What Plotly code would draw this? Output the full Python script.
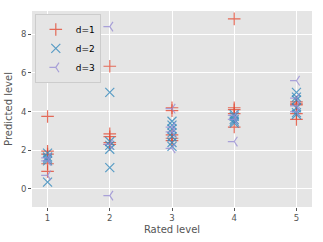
import plotly.graph_objects as go

# d=1 predictions
d1_x = [1, 1, 1, 1, 1, 2, 2, 2, 2, 2, 3, 3, 3, 3, 3, 4, 4, 4, 4, 4, 5, 5, 5, 5, 5]
d1_y = [3.75, 1.95, 1.8, 1.3, 0.9, 6.35, 2.85, 2.7, 2.4, 2.3, 4.2, 4.05, 2.8, 2.62, 2.5,
        8.8, 4.2, 4.1, 3.9, 3.2, 4.5, 4.4, 4.35, 3.9, 3.6]
# d=2 predictions
d2_x = [1, 1, 1, 1, 1, 2, 2, 2, 2, 2, 3, 3, 3, 3, 3, 3, 3, 4, 4, 4, 4, 4, 5, 5, 5, 5, 5, 5]
d2_y = [1.85, 1.65, 1.55, 1.45, 0.35, 5.0, 2.45, 2.25, 2.05, 1.1, 3.5, 3.3, 3.1, 2.9, 2.7, 2.4, 2.2,
        3.85, 3.75, 3.6, 3.5, 3.4, 5.0, 4.75, 4.6, 4.2, 3.95, 3.85]
# d=3 predictions
d3_x = [1, 1, 1, 2, 2, 2, 3, 3, 3, 3, 4, 4, 4, 5, 5, 5, 5]
d3_y = [1.6, 1.45, 0.7, 8.4, 2.3, -0.35, 4.15, 3.2, 2.95, 2.1, 3.8, 3.6, 2.45, 5.6, 4.7, 4.3, 4.0]

x_ticks = [1, 2, 3, 4, 5]
y_ticks = [0, 2, 4, 6, 8]

series = [
    ("d=1", d1_x, d1_y, "#E24A33", "cross-thin-open", 9),
    ("d=2", d2_x, d2_y, "#348ABD", "x-thin-open", 9),
    ("d=3", d3_x, d3_y, "#988ED5", "y-left-open", 8),
]

fig = go.Figure()
for name, xs, ys, col, sym, sz in series:
    fig.add_trace(go.Scatter(
        x=xs, y=ys, mode="markers", name=name,
        marker=dict(symbol=sym, size=sz, color=col, opacity=0.8,
                    line=dict(color=col, width=1.2)),
    ))

axis_common = dict(
    showgrid=True, gridcolor="white", gridwidth=1, zeroline=False,
    showline=False, ticks="outside", ticklen=3, tickcolor="#555555",
    automargin=False,
    tickfont=dict(family="DejaVu Sans", size=8.5, color="#555555"),
)

fig.update_layout(
    width=323, height=242,
    margin=dict(l=32, r=11, t=11, b=35),
    paper_bgcolor="white", plot_bgcolor="#E5E5E5",
    showlegend=True,
    legend=dict(x=0.01, y=0.985, xanchor="left", yanchor="top",
                bgcolor="#E5E5E5", bordercolor="#CCCCCC", borderwidth=1,
                font=dict(family="DejaVu Sans", size=9, color="black"),
                itemwidth=30, tracegroupgap=0),
    xaxis=dict(range=[0.75, 5.25], tickvals=x_ticks,
               title=dict(text="Rated level", standoff=3,
                          font=dict(family="DejaVu Sans", size=10, color="#555555")),
               **axis_common),
    yaxis=dict(range=[-0.94, 9.21], tickvals=y_ticks,
               title=dict(text="Predicted level", standoff=6,
                          font=dict(family="DejaVu Sans", size=10, color="#555555")),
               **axis_common),
)

fig.write_html("out.html", config={"displayModeBar": False},
               post_script="document.body.style.margin='0';")
